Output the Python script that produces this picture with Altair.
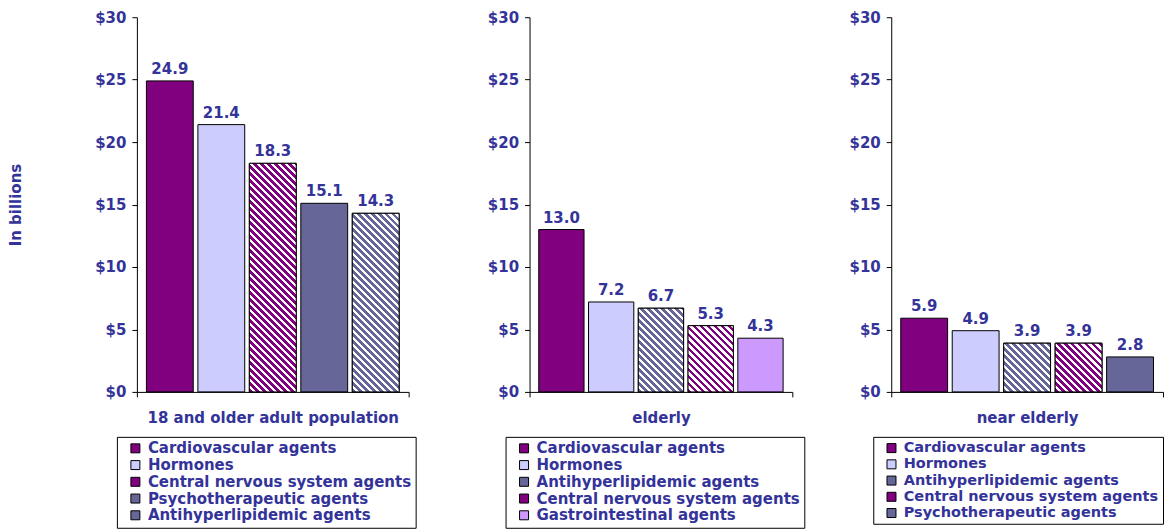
import math
import altair as alt
import pandas as pd

# ---------------- data ----------------
panel_titles = ["18 and older adult population", "elderly", "near elderly"]
panel_drugs = [
    ["Cardiovascular agents", "Hormones", "Central nervous system agents",
     "Psychotherapeutic agents", "Antihyperlipidemic agents"],
    ["Cardiovascular agents", "Hormones", "Antihyperlipidemic agents",
     "Central nervous system agents", "Gastrointestinal agents"],
    ["Cardiovascular agents", "Hormones", "Antihyperlipidemic agents",
     "Central nervous system agents", "Psychotherapeutic agents"],
]
panel_values = [
    [24.9, 21.4, 18.3, 15.1, 14.3],
    [13.0, 7.2, 6.7, 5.3, 4.3],
    [5.9, 4.9, 3.9, 3.9, 2.8],
]
y_ticks = [0, 5, 10, 15, 20, 25, 30]

# ---------------- styles ----------------
drug_colors = {
    "Cardiovascular agents": "#800080",
    "Hormones": "#CCCCFF",
    "Central nervous system agents": "#800080",
    "Psychotherapeutic agents": "#666699",
    "Antihyperlipidemic agents": "#666699",
    "Gastrointestinal agents": "#CC99FF",
}
striped = {"Central nervous system agents", "Antihyperlipidemic agents"}

TEXT = "#333399"
FONT = "DejaVu Sans"
FS = 15
H = 375
widths = [272, 263, 272]
legend_x = [-20, -24, -18]
legend_fs = [15, 15, 14.5]
legend_rowpad = [0.75, 0.75, 1.25]
PI, PO = 0.09, 0.185
Y_MAX = 30


def stripe_gradient(w, h, color, period=7.0, frac=0.54):
    """Linear gradient that draws 45-degree '\\' stripes in a w x h box."""
    L = w + h
    d = w * w + h * h
    a = w * L / d
    b = -h * L / d
    stops = []
    n = int(math.ceil(L / period))
    for k in range(n):
        s = min(k * period / L, 1)
        m = min((k * period + period * frac) / L, 1)
        e = min((k + 1) * period / L, 1)
        stops += [
            {"offset": s, "color": color},
            {"offset": m, "color": color},
            {"offset": m, "color": "#FFFFFF"},
            {"offset": e, "color": "#FFFFFF"},
        ]
    return {"gradient": "linear", "x1": 0, "y1": 1, "x2": a, "y2": 1 + b,
            "stops": stops}


def panel(i):
    title = panel_titles[i]
    drugs = panel_drugs[i]
    vals = panel_values[i]
    W = widths[i]
    df = pd.DataFrame({"group": [title] * len(drugs), "drug": drugs, "value": vals})

    x = alt.X("group:N", title=None,
              scale=alt.Scale(paddingInner=0, paddingOuter=0),
              axis=alt.Axis(labelAngle=0, tickBand="extent", ticks=True, tickSize=5,
                            domainColor="black", tickColor="black", labelPadding=14,
                            labelFontSize=FS, labelFont=FONT, labelFontWeight="bold",
                            labelColor=TEXT, labelLimit=600))
    xo = alt.XOffset("drug:N", sort=drugs,
                     scale=alt.Scale(domain=drugs, paddingInner=PI, paddingOuter=PO))
    yaxis = dict(values=y_ticks, labelExpr="'$' + datum.value", grid=False,
                 domainColor="black", tickColor="black", tickSize=5, labelPadding=6,
                 labelFontSize=FS, labelFont=FONT, labelFontWeight="bold",
                 labelColor=TEXT)
    if i == 0:
        yaxis.update(titleFont=FONT, titleFontSize=FS, titleFontWeight="bold",
                     titleColor=TEXT, titlePadding=71)
        y = alt.Y("value:Q", title="In billions",
                  scale=alt.Scale(domain=[0, Y_MAX], nice=False),
                  axis=alt.Axis(**yaxis))
    else:
        y = alt.Y("value:Q", title=None,
                  scale=alt.Scale(domain=[0, Y_MAX], nice=False),
                  axis=alt.Axis(**yaxis))

    color = alt.Color(
        "drug:N", sort=drugs,
        scale=alt.Scale(domain=drugs, range=[drug_colors[d] for d in drugs]),
        legend=alt.Legend(orient="none", legendX=legend_x[i], legendY=420,
                          direction="vertical", title=None, strokeColor="black",
                          fillColor="white", padding=4, symbolType="square",
                          symbolSize=81, symbolStrokeColor="black",
                          symbolStrokeWidth=1, labelFont=FONT,
                          labelFontSize=legend_fs[i],
                          labelFontWeight="bold", labelColor=TEXT, labelLimit=600,
                          rowPadding=legend_rowpad[i], labelOffset=5, symbolOffset=7,
                          cornerRadius=0),
    )

    base = alt.Chart(df).mark_bar(stroke="black", strokeWidth=1).encode(
        x=x, xOffset=xo, y=y, color=color)
    layers = [base]

    step = W / (len(drugs) - PI + 2 * PO)
    bw = step * (1 - PI)
    for d, v in zip(drugs, vals):
        if d in striped:
            bh = v / Y_MAX * H
            grad = stripe_gradient(bw, bh, drug_colors[d])
            layers.append(
                alt.Chart(df).transform_filter(alt.datum.drug == d)
                .mark_bar(fill=grad, stroke="black", strokeWidth=1)
                .encode(x=x, xOffset=xo, y=y)
            )

    text = alt.Chart(df).mark_text(
        dy=-7, baseline="alphabetic", fontSize=FS, fontWeight="bold",
        color=TEXT, font=FONT
    ).encode(x=x, xOffset=xo, y=y, text=alt.Text("value:Q", format=".1f"))
    layers.append(text)
    return alt.layer(*layers).properties(width=W, height=H)


p1, p2, p3 = panel(0), panel(1), panel(2)


def indep(c):
    return c.resolve_scale(x="independent", y="independent",
                           xOffset="independent", color="independent"
                           ).resolve_legend(color="independent")


inner = indep(alt.hconcat(p1, p2, spacing=70))
chart = indep(alt.hconcat(inner, p3, spacing=43)).properties(
    padding={"left": 0, "top": 2, "right": 0, "bottom": 0},
    background="white",
).configure_view(stroke=None)

chart.save("out.html", embed_options={"renderer": "svg", "actions": False})
